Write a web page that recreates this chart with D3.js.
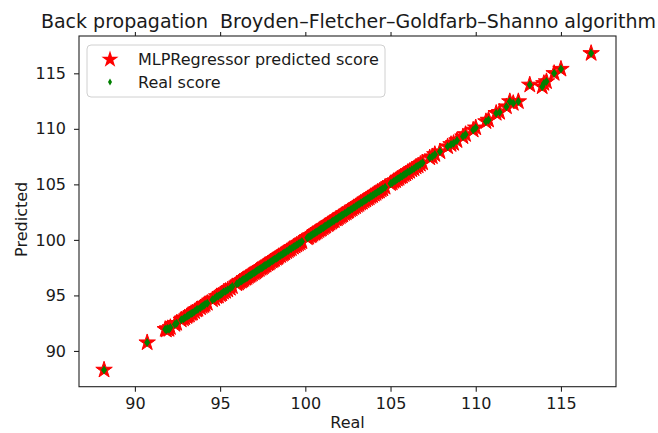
<!DOCTYPE html>
<html>
<head>
<meta charset="utf-8">
<script src="https://cdn.jsdelivr.net/npm/d3@7"></script>
<style>
  body { margin: 0; background: #fff; }
  text { font-family: 'DejaVu Sans', sans-serif; fill: #1a1a1a; }
</style>
</head>
<body>
<svg id="chart" width="658" height="433"></svg>
<script>
'use strict';

const title = 'Back propagation  Broyden–Fletcher–Goldfarb–Shanno algorithm';
const xTicks = [90, 95, 100, 105, 110, 115];
const yTicks = [90, 95, 100, 105, 110, 115];
const legendLabels = ['MLPRegressor predicted score', 'Real score'];

const realScore = [
  88.19, 90.72,
  91.78, 91.85, 91.92, 92.0, 92.08, 92.35, 92.45,
  92.72, 92.85, 92.93, 93.05, 93.12, 93.2, 93.3, 93.38, 93.5, 93.62, 93.7,
  93.85, 93.95, 94.05, 94.12, 94.25,
  94.55, 94.68, 94.8, 94.9, 95.02, 95.1, 95.2, 95.32, 95.45, 95.6, 95.72,
  95.98, 96.08, 96.15, 96.25, 96.32, 96.4, 96.5, 96.58, 96.66, 96.75, 96.82,
  96.9, 97.0, 97.08, 97.15, 97.22, 97.3, 97.4, 97.48, 97.55, 97.63, 97.7,
  97.8, 97.88, 97.95, 98.05, 98.12, 98.2, 98.3, 98.38, 98.45, 98.55, 98.65,
  98.72, 98.8, 98.9, 99.0, 99.08, 99.18, 99.3, 99.4, 99.5, 99.6, 99.7, 99.8,
  100.12, 100.2, 100.3, 100.38, 100.45, 100.55, 100.62, 100.7, 100.8, 100.88,
  100.95, 101.05, 101.12, 101.2, 101.3, 101.38, 101.45, 101.55, 101.62, 101.7,
  101.8, 101.88, 101.95, 102.05, 102.12, 102.2, 102.3, 102.4, 102.48, 102.55,
  102.65, 102.75, 102.85, 102.95, 103.05, 103.15, 103.25, 103.35, 103.45,
  103.55, 103.65, 103.75, 103.85, 103.95, 104.05, 104.15, 104.25, 104.35,
  104.45, 104.55, 104.68,
  105.0, 105.1, 105.2, 105.3, 105.4, 105.5, 105.6, 105.7, 105.8, 105.9, 106.0,
  106.12, 106.25, 106.38, 106.5, 106.62, 106.75, 106.88,
  107.3, 107.45, 107.6, 107.9,
  108.35, 108.55, 108.7, 108.9, 109.25, 109.4, 109.85, 110.0, 110.6, 110.75,
  111.2, 111.4, 111.8, 112.0, 112.2, 112.5, 113.17, 113.9, 114.0, 114.15,
  114.6, 115.0, 116.77,
];

const predictedScore = [
  88.29, 90.75,
  91.95, 91.9, 92.02, 91.95, 92.12, 92.4, 92.5,
  92.8, 92.9, 93.0, 93.1, 93.2, 93.25, 93.38, 93.42, 93.55, 93.7, 93.75,
  93.9, 94.02, 94.1, 94.2, 94.3,
  94.62, 94.72, 94.9, 94.95, 95.08, 95.15, 95.3, 95.38, 95.5, 95.65, 95.8,
  96.05, 96.12, 96.22, 96.3, 96.38, 96.45, 96.55, 96.62, 96.72, 96.8, 96.88,
  96.95, 97.05, 97.12, 97.2, 97.28, 97.35, 97.45, 97.52, 97.6, 97.7, 97.75,
  97.85, 97.92, 98.02, 98.1, 98.18, 98.25, 98.35, 98.42, 98.52, 98.6, 98.7,
  98.78, 98.85, 98.95, 99.05, 99.15, 99.22, 99.35, 99.45, 99.55, 99.65, 99.75, 99.85,
  100.2, 100.25, 100.38, 100.42, 100.52, 100.6, 100.68, 100.75, 100.85, 100.95,
  101.0, 101.1, 101.2, 101.25, 101.38, 101.42, 101.52, 101.6, 101.7, 101.75,
  101.88, 101.92, 102.02, 102.1, 102.2, 102.25, 102.38, 102.45, 102.55, 102.6,
  102.72, 102.8, 102.92, 103.0, 103.12, 103.2, 103.32, 103.4, 103.52,
  103.6, 103.72, 103.8, 103.92, 104.0, 104.12, 104.2, 104.32, 104.4,
  104.52, 104.6, 104.75,
  105.08, 105.15, 105.28, 105.35, 105.48, 105.55, 105.68, 105.75, 105.88, 105.95, 106.08,
  106.18, 106.32, 106.42, 106.58, 106.68, 106.82, 106.95,
  107.4, 107.5, 107.7, 107.95,
  108.4, 108.6, 108.7, 108.95, 109.3, 109.5, 109.9, 110.1, 110.66, 110.8,
  111.41, 111.5, 112.0, 112.46, 112.3, 112.46, 113.96, 113.8, 114.1, 114.26,
  115.0, 115.38, 116.8,
];

const svg = d3.select('#chart');
const margin = { top: 36, right: 42, bottom: 46.3, left: 79 };
const width = 658 - margin.left - margin.right;
const height = 433 - margin.top - margin.bottom;
const fontSize = 16;

const x = d3.scaleLinear().domain([86.72, 118.23]).range([0, width]);
const y = d3.scaleLinear().domain([86.78, 118.36]).range([height, 0]);

const points = realScore.map((r, i) => ({ real: r, predicted: predictedScore[i] }));

const starSymbol = d3.symbol().type(d3.symbolStar).size(84);
// thin diamond, like matplotlib's 'd'
const diamondPath = (w, h) => `M0,${-h / 2}L${w / 2},0L0,${h / 2}L${-w / 2},0Z`;

svg.append('text')
  .attr('x', margin.left + width / 2 + 1)
  .attr('y', 28)
  .attr('text-anchor', 'middle')
  .attr('font-size', 19)
  .style('white-space', 'pre')
  .text(title);

const g = svg.append('g')
  .attr('transform', `translate(${margin.left},${margin.top})`);

const styleAxis = (sel) => {
  sel.select('.domain').remove();
  sel.selectAll('.tick line').attr('stroke', '#222').attr('stroke-width', 1.1);
  sel.selectAll('.tick text')
    .attr('font-size', fontSize)
    .attr('font-family', 'DejaVu Sans, sans-serif')
    .attr('fill', '#1a1a1a');
};

g.append('g')
  .attr('transform', `translate(0,${height})`)
  .call(d3.axisBottom(x).tickValues(xTicks).tickSize(5).tickPadding(6))
  .call(styleAxis);

// ticks sticking out above the top spine
g.append('g')
  .call(d3.axisTop(x).tickValues(xTicks).tickSize(4).tickFormat(''))
  .call(styleAxis);

g.append('g')
  .call(d3.axisLeft(y).tickValues(yTicks).tickSize(5).tickPadding(8))
  .call(styleAxis);

g.append('rect')
  .attr('width', width)
  .attr('height', height)
  .attr('fill', 'none')
  .attr('stroke', '#222')
  .attr('stroke-width', 1.1);

const plot = g.append('g');

plot.selectAll('.star')
  .data(points)
  .enter()
  .append('path')
  .classed('star', true)
  .attr('transform', (d) => `translate(${x(d.real)},${y(d.predicted)})`)
  .attr('d', starSymbol)
  .attr('fill', '#ff0000')
  .attr('stroke', '#ff0000')
  .attr('stroke-width', 1);

plot.selectAll('.real')
  .data(points)
  .enter()
  .append('path')
  .classed('real', true)
  .attr('transform', (d) => `translate(${x(d.real)},${y(d.predicted)})`)
  .attr('d', diamondPath(6, 9))
  .attr('fill', '#008000');

svg.append('text')
  .attr('x', margin.left + width / 2)
  .attr('y', 428)
  .attr('text-anchor', 'middle')
  .attr('font-size', fontSize)
  .text('Real');

svg.append('text')
  .attr('transform', `translate(27,${margin.top + height / 2 + 8}) rotate(-90)`)
  .attr('text-anchor', 'middle')
  .attr('font-size', fontSize)
  .text('Predicted');

const legend = svg.append('g').attr('transform', 'translate(87,45)');

legend.append('rect')
  .attr('width', 298)
  .attr('height', 52)
  .attr('rx', 4)
  .attr('fill', '#fff')
  .attr('stroke', '#d0d0d0')
  .attr('stroke-width', 1);

legend.append('path')
  .attr('transform', 'translate(23,14.5)')
  .attr('d', d3.symbol().type(d3.symbolStar).size(90)())
  .attr('fill', '#ff0000');

legend.append('path')
  .attr('transform', 'translate(23,37)')
  .attr('d', diamondPath(4, 7))
  .attr('fill', '#008000');

legend.selectAll('.label')
  .data(legendLabels)
  .enter()
  .append('text')
  .classed('label', true)
  .attr('x', 51)
  .attr('y', (d, i) => 20 + i * 22.5)
  .attr('font-size', fontSize)
  .text((d) => d);
</script>
</body>
</html>
